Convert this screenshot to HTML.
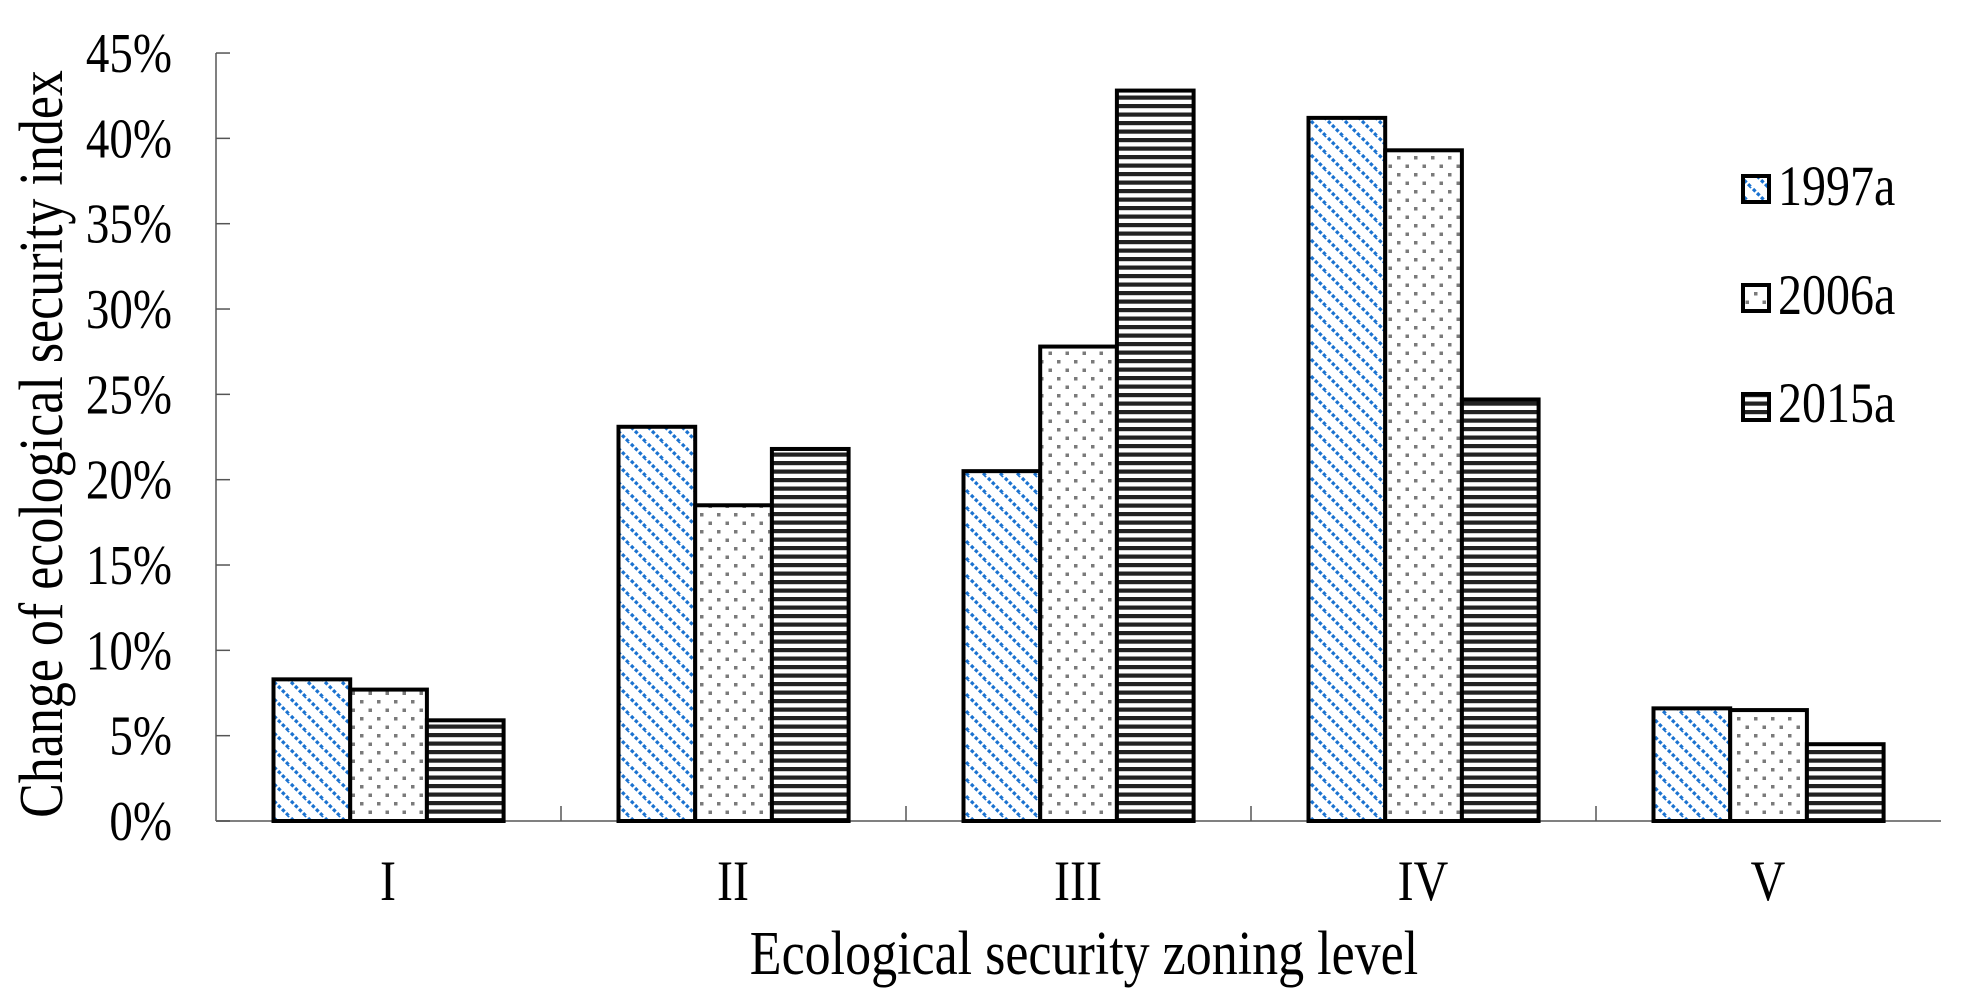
<!DOCTYPE html>
<html><head><meta charset="utf-8"><style>body{margin:0;background:#fff}svg{display:block}text{font-family:"Liberation Serif",serif;fill:#000}</style></head><body>
<svg width="1965" height="988" viewBox="0 0 1965 988" xmlns="http://www.w3.org/2000/svg">
<defs>
<pattern id="p1" width="17" height="17" patternUnits="userSpaceOnUse">
<rect width="17" height="17" fill="#fff"/>
<path d="M-2,-2 L19,19 M-19,-2 L2,19 M15,-2 L36,19" stroke="#1a72d0" stroke-width="3.2" stroke-dasharray="3.5,2.2"/>
</pattern>
<pattern id="p2" width="17" height="17" patternUnits="userSpaceOnUse">
<rect width="17" height="17" fill="#fff"/>
<rect x="3" y="3" width="3.5" height="3.5" fill="#7a7a7a"/>
<rect x="11.5" y="11.5" width="3.5" height="3.5" fill="#7a7a7a"/>
</pattern>
<pattern id="p3" width="8.5" height="8.5" patternUnits="userSpaceOnUse">
<rect width="8.5" height="8.5" fill="#fff"/>
<rect y="2" width="8.5" height="4.2" fill="#222"/>
</pattern>
</defs>
<g stroke="#808080" stroke-width="2">
<line x1="216" y1="53" x2="216" y2="821"/>
<line x1="216" y1="821" x2="1941" y2="821"/>
</g>
<g stroke="#555" stroke-width="1.5" id="ticks"></g>
<g id="bars"></g>
<g font-size="47" text-anchor="end" id="ylab"></g>
<g font-size="48" text-anchor="middle">
<text transform="translate(388,900) scale(1,1.2)">I</text><text transform="translate(733,900) scale(1,1.2)">II</text><text transform="translate(1078,900) scale(1,1.2)">III</text><text transform="translate(1423,900) scale(1,1.2)">IV</text><text transform="translate(1768,900) scale(1,1.2)">V</text>
<text font-size="52" transform="translate(1084,974) scale(1,1.2)">Ecological security zoning level</text>
<text font-size="52" transform="translate(62,444) rotate(-90) scale(1,1.2)">Change of ecological security index</text>
</g>
<g stroke="#000" stroke-width="4">
<rect x="1743" y="176" width="26" height="26" fill="url(#p1)"/>
<rect x="1743" y="285" width="26" height="26" fill="url(#p2)"/>
<rect x="1743" y="394" width="26" height="26" fill="url(#p3)"/>
</g>
<g font-size="48">
<text transform="translate(1778,205) scale(1,1.2)">1997a</text>
<text transform="translate(1778,314) scale(1,1.2)">2006a</text>
<text transform="translate(1778,422) scale(1,1.2)">2015a</text>
</g>
<script>
var ns="http://www.w3.org/2000/svg";
var t=document.getElementById("ticks"),yl=document.getElementById("ylab"),b=document.getElementById("bars");
for(var i=0;i<=9;i++){var y=821-i*85.33;
var l=document.createElementNS(ns,"line");l.setAttribute("x1",216);l.setAttribute("x2",230);l.setAttribute("y1",y);l.setAttribute("y2",y);t.appendChild(l);
var tx=document.createElementNS(ns,"text");tx.setAttribute("transform","translate(172,"+(y+19)+") scale(1,1.2)");tx.textContent=(i*5)+"%";yl.appendChild(tx);}
for(var i=1;i<5;i++){var x=216+345*i;var l=document.createElementNS(ns,"line");l.setAttribute("x1",x);l.setAttribute("x2",x);l.setAttribute("y1",806);l.setAttribute("y2",821);t.appendChild(l);}
var v=[[8.3,7.7,5.9],[23.1,18.5,21.8],[20.5,27.8,42.8],[41.2,39.3,24.7],[6.6,6.5,4.5]];
for(var g=0;g<5;g++)for(var s=0;s<3;s++){var h=v[g][s]*17.066;var x=216+345*g+57.5+s*76.7;
var r=document.createElementNS(ns,"rect");r.setAttribute("x",x);r.setAttribute("y",821-h);r.setAttribute("width",76.7);r.setAttribute("height",h);
r.setAttribute("fill","url(#p"+(s+1)+")");r.setAttribute("stroke","#000");r.setAttribute("stroke-width",4);b.appendChild(r);}
</script>
</svg>
</body></html>
